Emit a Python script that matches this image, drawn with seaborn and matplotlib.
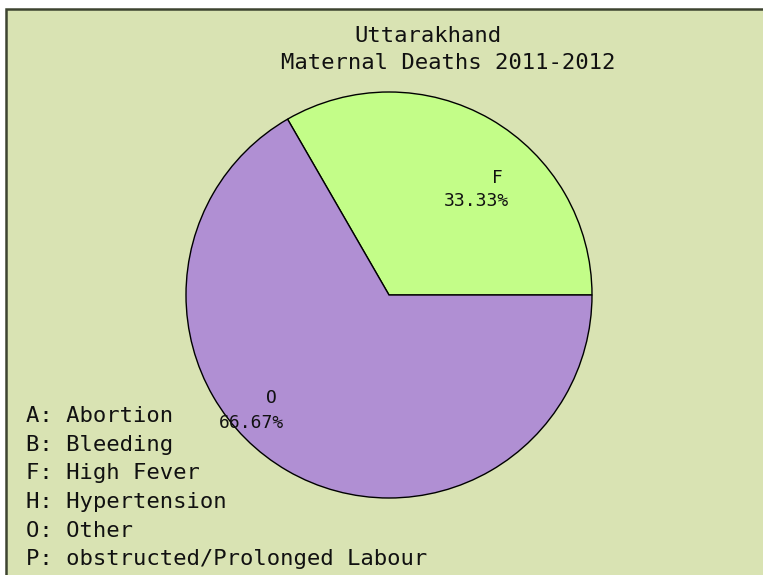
import matplotlib
matplotlib.use("Agg")
import matplotlib.pyplot as plt
import seaborn as sns
from matplotlib.patches import Rectangle

sns.set_theme(style="white")
plt.rcParams['font.family'] = ['DejaVu Sans Mono']

categories = ["F", "O"]
values = [33.33, 66.67]
slice_colors = ["#c3fd88", "#b08fd3"]
legend_lines = ["A: Abortion", "B: Bleeding", "F: High Fever",
                "H: Hypertension", "O: Other", "P: obstructed/Prolonged Labour"]
title_lines = ["Uttarakhand", "Maternal Deaths 2011-2012"]
pct_labels = ["33.33%", "66.67%"]

W, H = 763, 575
fig = plt.figure(figsize=(W / 100, H / 100), dpi=100)
fig.patch.set_facecolor("white")

bg = "#d9e3b3"
fig.patches.append(Rectangle((6 / W, -0.05), 1.1, (H - 9) / H + 0.05,
                             transform=fig.transFigure, facecolor=bg,
                             edgecolor="#3d4430", linewidth=1.8, zorder=-5))

ax = fig.add_axes([186 / W, (H - 498) / H, 406 / W, 406 / H])
ax.set_facecolor("none")
ax.set_zorder(2)
wedges, _ = ax.pie(values, colors=slice_colors, startangle=0, counterclock=True,
                   wedgeprops=dict(edgecolor="black", linewidth=1.0))
ax.set_xlim(-1, 1)
ax.set_ylim(-1, 1)
ax.set_aspect("auto")
ax.axis("off")

def fx(x):
    return x / W

def fy(y):
    return 1 - y / H

txt = dict(color="#111111", zorder=10)
fig.text(fx(428), fy(36), title_lines[0], ha="center", va="center", fontsize=16, **txt)
fig.text(fx(448), fy(63), title_lines[1], ha="center", va="center", fontsize=16, **txt)

# slice labels
fig.text(fx(503), fy(178), categories[0], ha="right", va="center", fontsize=13, **txt)
fig.text(fx(509), fy(201), pct_labels[0], ha="right", va="center", fontsize=13, **txt)
fig.text(fx(277), fy(398), categories[1], ha="right", va="center", fontsize=13, **txt)
fig.text(fx(284), fy(423), pct_labels[1], ha="right", va="center", fontsize=13, **txt)

ys = [416, 445, 473, 502, 531, 559]
for line, y in zip(legend_lines, ys):
    fig.text(fx(26), fy(y), line, ha="left", va="center", fontsize=16, **txt)

fig.savefig("out.png", dpi=100, facecolor="white")
